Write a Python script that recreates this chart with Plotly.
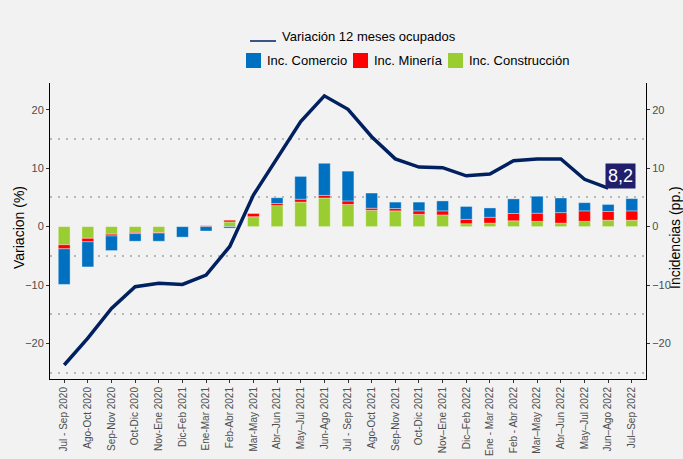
import plotly.graph_objects as go

periodos = ["Jul - Sep 2020", "Ago-Oct 2020", "Sep-Nov 2020", "Oct-Dic 2020", "Nov-Ene 2020",
            "Dic-Feb 2021", "Ene-Mar 2021", "Feb-Abr 2021", "Mar-May 2021", "Abr–Jun 2021",
            "May–Jul 2021", "Jun-Ago 2021", "Jul - Sep 2021", "Ago-Oct 2021", "Sep-Nov 2021",
            "Oct-Dic 2021", "Nov–Ene 2021", "Dic–Feb 2022", "Ene - Mar 2022", "Feb - Abr 2022",
            "Mar–May 2022", "Abr–Jun 2022", "May–Jul 2022", "Jun–Ago 2022", "Jul–Sep 2022"]

variacion_ocupados = [-23.7, -19.1, -14.0, -10.3, -9.7, -9.9, -8.3, -3.4, 5.4, 11.7,
                      18.0, 22.4, 20.1, 15.4, 11.6, 10.2, 10.1, 8.7, 9.0, 11.3,
                      11.6, 11.6, 8.1, 6.6]

inc_construccion = [-3.1, -2.0, -1.3, -1.0, -1.0, 0.0, 0.0, 0.8, 1.7, 3.6,
                    4.2, 4.9, 3.8, 2.8, 2.7, 2.1, 2.0, 0.5, 0.6, 1.0,
                    0.9, 0.6, 0.9, 1.1, 1.1]
inc_mineria = [-0.7, -0.6, -0.3, -0.2, -0.1, 0.0, 0.15, 0.3, 0.6, 0.35,
               0.5, 0.45, 0.6, 0.35, 0.4, 0.6, 0.7, 0.75, 1.0, 1.25,
               1.4, 1.8, 1.8, 1.5, 1.6]
inc_comercio = [-6.1, -4.3, -2.5, -1.3, -1.4, -1.8, -0.75, -0.25, 0.0, 1.0,
                3.9, 5.5, 5.1, 2.6, 1.1, 1.5, 1.7, 2.2, 1.6, 2.5,
                2.9, 2.5, 1.4, 1.2, 2.1]

etiqueta_final = "8,2"

nombre_linea = "Variación 12 meses ocupados"
nombres_barras = ["Inc. Comercio", "Inc. Minería", "Inc. Construcción"]

FONT = "Liberation Sans, Arial, sans-serif"
AZUL = "#0070C0"
ROJO = "#FF0000"
VERDE = "#9ACD32"
LINEA = "#002060"

W, H = 683, 459
ML, MR, MT, MB = 50, 37, 83, 80
PW, PH = W - ML - MR, H - MT - MB


def px(x):
    return (x - ML) / PW


def py(y):
    return (H - MB - y) / PH


fig = go.Figure()

bar_line = dict(color="rgba(255,255,255,0.35)", width=1)
fig.add_trace(go.Bar(x=periodos, y=inc_construccion, name=nombres_barras[2],
                     marker=dict(color=VERDE, line=bar_line), width=0.5, yaxis="y2"))
fig.add_trace(go.Bar(x=periodos, y=inc_mineria, name=nombres_barras[1],
                     marker=dict(color=ROJO, line=bar_line), width=0.5, yaxis="y2"))
fig.add_trace(go.Bar(x=periodos, y=inc_comercio, name=nombres_barras[0],
                     marker=dict(color=AZUL, line=bar_line), width=0.5, yaxis="y2"))

fig.add_trace(go.Scatter(x=periodos[:len(variacion_ocupados)], y=variacion_ocupados,
                         mode="lines", name=nombre_linea,
                         line=dict(color=LINEA, width=3.5), yaxis="y"))

fig.add_annotation(x=periodos[len(variacion_ocupados) - 1], y=variacion_ocupados[-1],
                   xref="x", yref="y", text=etiqueta_final, showarrow=False,
                   xanchor="left", yanchor="bottom", xshift=-3, yshift=-1,
                   bgcolor="#1f1f6b", font=dict(color="white", size=18, family=FONT),
                   borderpad=2)

# Legend (drawn manually to match layout: line on first row, bars on second)
fig.add_shape(type="line", xref="paper", yref="paper", x0=px(250), x1=px(276),
              y0=py(41), y1=py(41), line=dict(color=LINEA, width=1.5))
fig.add_annotation(xref="paper", yref="paper", x=px(280), y=py(36), text=nombre_linea,
                   showarrow=False, xanchor="left", yanchor="middle",
                   font=dict(size=13, color="black", family=FONT))
colores = [AZUL, ROJO, VERDE]
cuadros_x = [246, 353, 448]
for nombre, color, x0 in zip(nombres_barras, colores, cuadros_x):
    fig.add_shape(type="rect", xref="paper", yref="paper", x0=px(x0), x1=px(x0 + 15),
                  y0=py(68), y1=py(53), fillcolor=color, line=dict(width=0))
    fig.add_annotation(xref="paper", yref="paper", x=px(x0 + 19), y=py(61), text=nombre,
                       showarrow=False, xanchor="left", yanchor="middle",
                       font=dict(size=13, color="black", family=FONT))

# Axis titles
fig.add_annotation(xref="paper", yref="paper", x=px(19), y=py(228), text="Variacion (%)",
                   showarrow=False, textangle=-90, xanchor="center", yanchor="middle",
                   font=dict(size=14, color="black", family=FONT))
fig.add_annotation(xref="paper", yref="paper", x=px(675), y=py(238), text="Incidencias (pp.)",
                   showarrow=False, textangle=-90, xanchor="center", yanchor="middle",
                   font=dict(size=14, color="black", family=FONT))

yrange = [-26.1, 24.6]
axis_common = dict(range=yrange, tick0=0, dtick=10, showgrid=False, zeroline=False,
                   showline=True, linecolor="black", linewidth=1, automargin=False,
                   ticks="outside", ticklen=3, tickcolor="#333333",
                   tickfont=dict(size=11, color="#4d4d4d", family=FONT))

fig.update_layout(
    width=W, height=H,
    margin=dict(l=ML, r=MR, t=MT, b=MB),
    paper_bgcolor="#f2f2f2", plot_bgcolor="#f2f2f2",
    barmode="relative",
    showlegend=False,
    font=dict(family=FONT),
    xaxis=dict(type="category", range=[-0.6, 24.6], tickangle=-90, automargin=False,
               showline=True, linecolor="black", linewidth=1, showgrid=False,
               ticks="outside", ticklen=3, tickcolor="#333333",
               tickfont=dict(size=10, color="#4d4d4d", family=FONT)),
    yaxis=dict(**axis_common,
               minor=dict(tick0=0, dtick=5, showgrid=True, griddash="2px,6px",
                          gridcolor="#b8b8b8", gridwidth=1.5, ticks="")),
    yaxis2=dict(**axis_common, overlaying="y", side="right"),
)

fig.write_html("out.html", config={"displayModeBar": False},
               post_script="document.body.style.margin='0';")
